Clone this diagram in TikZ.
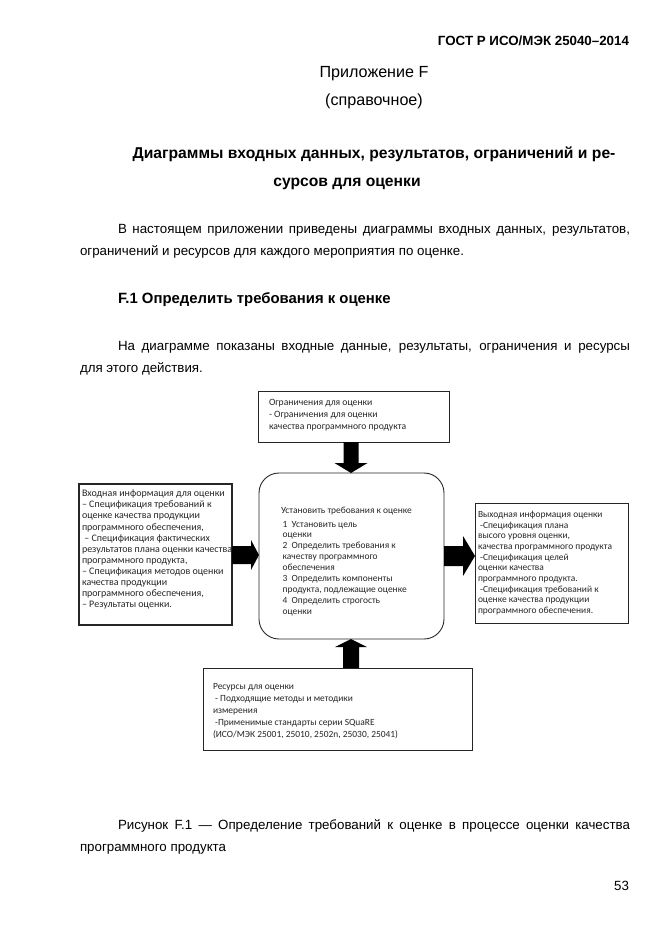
\documentclass[tikz,border=0pt]{standalone}
\usepackage{fontspec}
\setmainfont{Liberation Sans}
\newfontfamily\boxfont{Carlito}
\usetikzlibrary{calc}
\begin{document}
\begin{tikzpicture}[x=0.9pt,y=-0.9pt,
  every node/.style={inner sep=0pt,outer sep=0pt},
  frame/.style={draw=black!85,line width=0.8pt,minimum width=#1},
  boxtext/.style={anchor=north west,align=left,text=black!85,font=\boxfont\fontsize{8.7}{11}\selectfont},
  bodytext/.style={anchor=base west,font=\fontsize{12}{14}\selectfont},
  headtext/.style={anchor=base,font=\fontsize{14.5}{16}\selectfont},
  titletext/.style={anchor=base,font=\bfseries\fontsize{14.1}{16}\selectfont},
  blockarrow/.style={fill=black}]
\useasboundingbox[fill=white] (0,0) rectangle (661,935);

% page text
\node[anchor=base east,font=\bfseries\fontsize{12}{14}\selectfont] (hdr) at (629,45) {ГОСТ Р ИСО/МЭК 25040–2014};
\node[headtext] (app) at (374,77) {Приложение F};
\node[headtext] (ref) at (374,105) {(справочное)};
\node[titletext] (t1) at (374,158) {Диаграммы входных данных, результатов, ограничений и ре-};
\node[titletext] (t2) at (347,186) {сурсов для оценки};
\node[bodytext] (p1a) at (118,233) {\makebox[460.8pt][s]{В настоящем приложении приведены диаграммы входных данных, результатов,}};
\node[bodytext] (p1b) at (80,255) {ограничений и ресурсов для каждого мероприятия по оценке.};
\node[bodytext,font=\bfseries\fontsize{13.4}{15}\selectfont] (sec) at (118,303) {F.1 Определить требования к оценке};
\node[bodytext] (p2a) at (118,350) {\makebox[460.8pt][s]{На диаграмме показаны входные данные, результаты, ограничения и ресурсы}};
\node[bodytext] (p2b) at (80,372) {для этого действия.};
\node[bodytext] (c1) at (118,829) {\makebox[460.8pt][s]{Рисунок F.1 — Определение требований к оценке в процессе оценки качества}};
\node[bodytext] (c2) at (80,851) {программного продукта};
\node[anchor=base east,font=\fontsize{12}{14}\selectfont] (pg) at (629,890) {53};

% boxes
\node[frame=171.9pt,minimum height=45.9pt] (top) at (353.5,416.5) {};
\node[frame=166.5pt,minimum height=149.4pt,rounded corners=18pt] (main) at (351.5,556) {};
\node[frame=137.7pt,minimum height=126.9pt,line width=1pt] (left) at (155.5,554.5) {};
\node[frame=137.7pt,minimum height=108pt] (right) at (551.5,563) {};
\node[frame=242.1pt,minimum height=73.8pt] (bot) at (337.5,709) {};

% box texts
\node[boxtext] (toptx) at (269,399) {Ограничения для оценки\\- Ограничения для оценки\\качества программного продукта};
\node[boxtext,font=\boxfont\fontsize{9}{10}\selectfont] (lefttx) at (82,490) {Входная информация для оценки\\– Спецификация требований к\\оценке качества продукции\\программного обеспечения,\\\ – Спецификация фактических\\результатов плана оценки качества\\программного продукта,\\– Спецификация методов оценки\\качества продукции\\программного обеспечения,\\– Результаты оценки.};
\node[boxtext,font=\boxfont\fontsize{8.5}{9.8}\selectfont] (maintx) at (281,507) {Установить требования к оценке\\[2.5pt]
\kern1.5pt 1\ \ Установить цель\\\kern1.5pt оценки\\\kern1.5pt 2\ \ Определить требования к\\\kern1.5pt качеству программного\\\kern1.5pt обеспечения\\\kern1.5pt 3\ \ Определить компоненты\\\kern1.5pt продукта, подлежащие оценке\\\kern1.5pt 4\ \ Определить строгость\\\kern1.5pt оценки};
\node[boxtext,font=\boxfont\fontsize{8.5}{9.6}\selectfont] (righttx) at (478,511) {Выходная информация оценки\\\ -Спецификация плана\\высого уровня оценки,\\качества программного продукта\\\ -Спецификация целей\\оценки качества\\программного продукта.\\\ -Спецификация требований к\\оценке качества продукции\\программного обеспечения.};
\node[boxtext,font=\boxfont\fontsize{8.5}{11}\selectfont] (bottx) at (213,683) {Ресурсы для оценки\\\ - Подходящие методы и методики\\измерения\\\ -Применимые стандарты серии SQuaRE\\(ИСО/МЭК 25001, 25010, 2502n, 25030, 25041)};

% block arrows
\coordinate (ax) at (351,0);
\coordinate (ay) at (0,555);
\coordinate (by) at (0,556);
\fill[blockarrow] ($(top.south -| ax)+(-7.5,0)$) -- ($(main.north -| ax)+(-7.5,-10)$) -- ($(main.north -| ax)+(-16.5,-10)$)
  -- (main.north -| ax) -- ($(main.north -| ax)+(16.5,-10)$) -- ($(main.north -| ax)+(7.5,-10)$) -- ($(top.south -| ax)+(7.5,0)$) -- cycle;
\fill[blockarrow] ($(bot.north -| ax)+(-8,0)$) -- ($(main.south -| ax)+(-8,8)$) -- ($(main.south -| ax)+(-16,8)$)
  -- (main.south -| ax) -- ($(main.south -| ax)+(16,8)$) -- ($(main.south -| ax)+(8,8)$) -- ($(bot.north -| ax)+(8,0)$) -- cycle;
\fill[blockarrow] ($(left.east |- ay)+(0,-9)$) -- ($(main.west |- ay)+(-8,-9)$) -- ($(main.west |- ay)+(-8,-15)$)
  -- (main.west |- ay) -- ($(main.west |- ay)+(-8,15)$) -- ($(main.west |- ay)+(-8,9)$) -- ($(left.east |- ay)+(0,9)$) -- cycle;
\fill[blockarrow] ($(main.east |- by)+(0,-10)$) -- ($(right.west |- by)+(-12,-10)$) -- ($(right.west |- by)+(-12,-20)$)
  -- (right.west |- by) -- ($(right.west |- by)+(-12,20)$) -- ($(right.west |- by)+(-12,10)$) -- ($(main.east |- by)+(0,10)$) -- cycle;
\end{tikzpicture}
\end{document}
